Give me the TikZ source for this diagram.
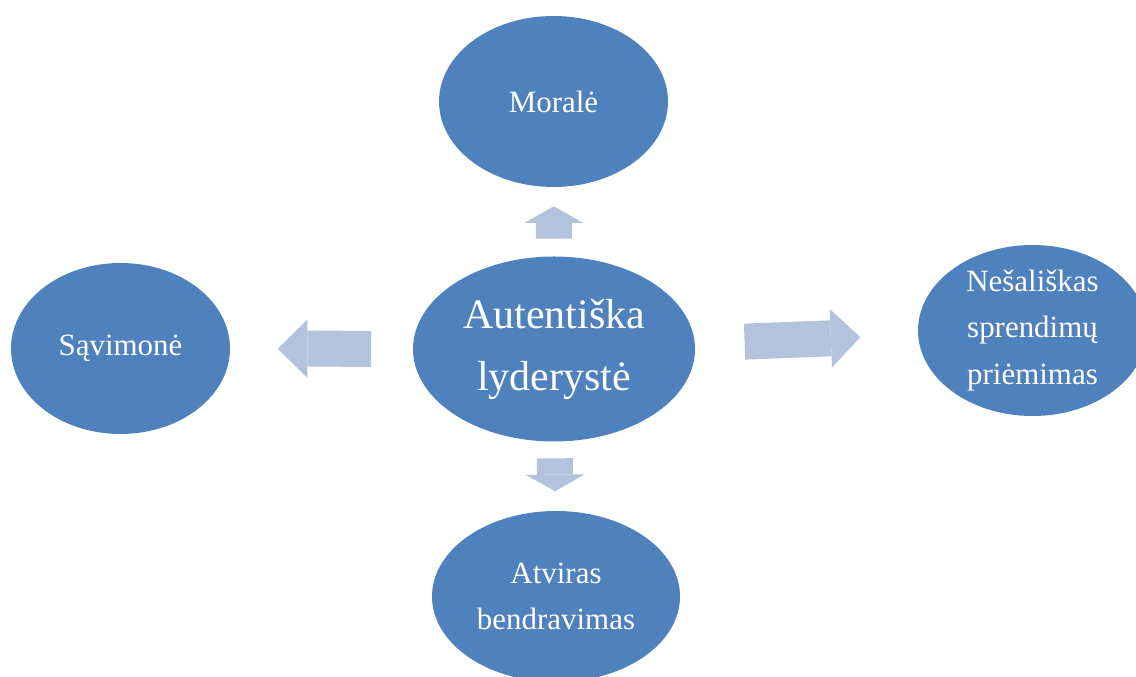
\documentclass[tikz,border=0pt]{standalone}
\usepackage{fontspec}
\setmainfont{Liberation Serif}
\usepackage{tikz}
\usetikzlibrary{arrows.meta, shapes.geometric}
\definecolor{smblue}{HTML}{4F81BD}
\definecolor{smarrow}{HTML}{B3C2DD}

\begin{document}
\begin{tikzpicture}[
      idea/.style={ellipse, fill=smblue, text=white, inner sep=0pt, align=center,
                   minimum width=4.58cm, minimum height=3.42cm,
                   font=\fontsize{17.6}{26.2}\selectfont},
      core/.style={idea, minimum width=5.64cm, minimum height=3.70cm,
                   font=\fontsize{23.9}{35.3}\selectfont},
      blk/.style={smarrow, line width=0.72cm,
                  -{Triangle[length=0.33cm, width=1.18cm, line width=0pt]}},
      blkw/.style={blk, -{Triangle[length=0.59cm, width=1.17cm, line width=0pt]}},
    ]
    \useasboundingbox (0,0) rectangle (22.72,13.54);

    % ---- centre and the four qualities ----
    \node[core] (core) at (11.08,6.56) {Autentiška\\lyderystė};
    \node[idea] (moral) at (11.07,11.51) {Moralė};
    \node[idea, minimum width=4.38cm] (savim) at (2.41,6.57) {Sąvimonė};
    \node[idea] (sprend) at (20.65,6.93) {Nešališkas\\sprendimų\\priėmimas};
    \node[idea, minimum width=4.96cm] (bendr) at (11.12,1.61) {Atviras\\bendravimas};

    % ---- block arrows out of the centre ----
    \draw[blk, shorten <=0.35cm, shorten >=0.38cm] (core) -- (moral);
    \draw[blkw, shorten <=0.83cm, shorten >=0.95cm] (core) -- (savim);
    \draw[blkw, shorten <=0.99cm, shorten >=1.15cm] (core) -- (sprend);
    \draw[blk, shorten <=0.33cm, shorten >=0.39cm] (core) -- (bendr);
  \end{tikzpicture}
\end{document}
